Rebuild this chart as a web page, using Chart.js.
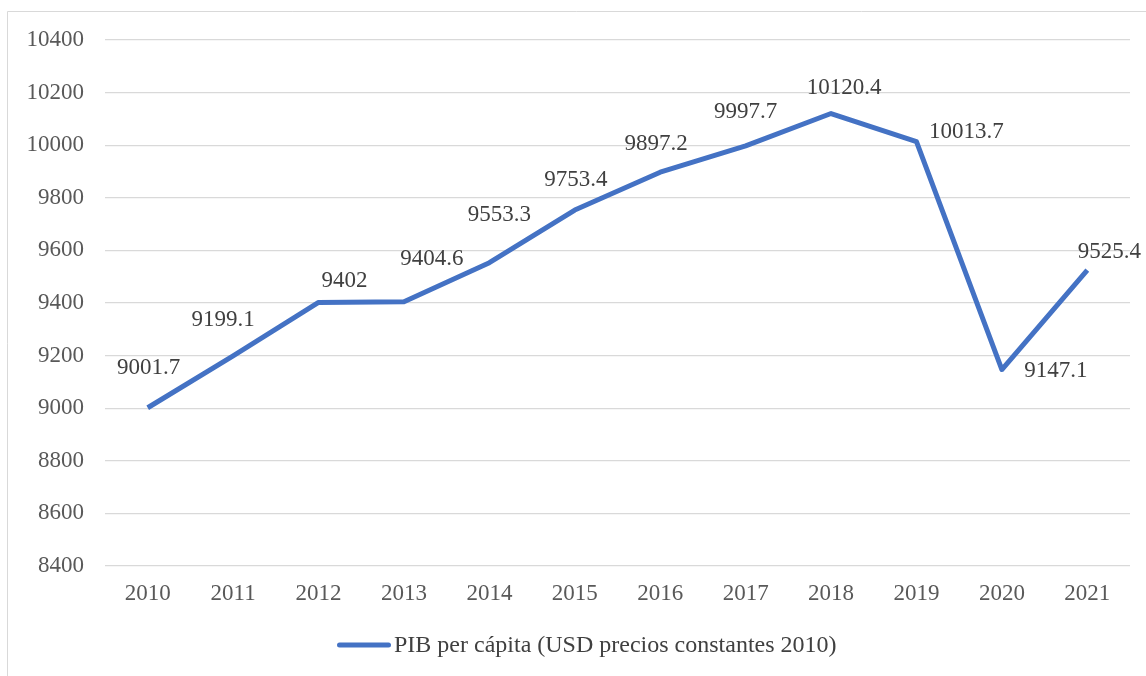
<!DOCTYPE html>
<html>
<head>
<meta charset="utf-8">
<script src="https://cdn.jsdelivr.net/npm/chart.js@4"></script>
<style>
  html, body { margin: 0; padding: 0; background: #ffffff; overflow: hidden; }
  #wrap { position: relative; width: 1146px; height: 676px; }
</style>
</head>
<body>
<div id="wrap"><canvas id="c" width="1146" height="676"></canvas></div>
<script>
const years = ['2010','2011','2012','2013','2014','2015','2016','2017','2018','2019','2020','2021'];
const pibPerCapita = [9001.7, 9199.1, 9402, 9404.6, 9553.3, 9753.4, 9897.2, 9997.7, 10120.4, 10013.7, 9147.1, 9525.4];
const valueLabels = ['9001.7','9199.1','9402','9404.6','9553.3','9753.4','9897.2','9997.7','10120.4','10013.7','9147.1','9525.4'];
const seriesName = 'PIB per cápita (USD precios constantes 2010)';
const yMin = 8400, yMax = 10400, yStep = 200;

const FONT = '"Liberation Serif", "Times New Roman", serif';

const frame = {
  id: 'frame',
  beforeDraw(chart) {
    const ctx = chart.ctx;
    ctx.save();
    ctx.fillStyle = '#ffffff';
    ctx.fillRect(0, 0, chart.width, chart.height);
    ctx.strokeStyle = '#d9d9d9';
    ctx.lineWidth = 1;
    ctx.beginPath();
    ctx.moveTo(7.5, chart.height);
    ctx.lineTo(7.5, 11.5);
    ctx.lineTo(chart.width, 11.5);
    ctx.stroke();
    ctx.restore();
  }
};

const valueLabelPlugin = {
  id: 'valueLabels',
  afterDatasetsDraw(chart, args, opts) {
    const ctx = chart.ctx;
    const meta = chart.getDatasetMeta(0);
    ctx.save();
    ctx.font = opts.font;
    ctx.fillStyle = opts.color;
    ctx.textAlign = 'center';
    ctx.textBaseline = 'middle';
    meta.data.forEach((pt, i) => {
      const off = opts.offsets[i] || [0, -30];
      ctx.fillText(valueLabels[i], pt.x + off[0], pt.y + off[1]);
    });
    ctx.restore();
  }
};

// Legend drawn at the bottom (Excel-style: long line swatch right next to the text)
const bottomLegend = {
  id: 'bottomLegend',
  afterDraw(chart, args, opts) {
    const ctx = chart.ctx;
    const ds = chart.data.datasets[0];
    ctx.save();
    ctx.strokeStyle = ds.borderColor;
    ctx.lineWidth = 5;
    ctx.lineCap = 'round';
    ctx.beginPath();
    ctx.moveTo(opts.x + 2.5, opts.y);
    ctx.lineTo(opts.x + opts.swatch - 2.5, opts.y);
    ctx.stroke();
    ctx.font = opts.font;
    ctx.fillStyle = opts.color;
    ctx.textAlign = 'left';
    ctx.textBaseline = 'middle';
    ctx.fillText(ds.label, opts.x + opts.swatch + opts.gap, opts.y + 1);
    ctx.restore();
  }
};

new Chart(document.getElementById('c'), {
  type: 'line',
  data: {
    labels: years,
    datasets: [{
      label: seriesName,
      data: pibPerCapita,
      borderColor: '#4472C4',
      backgroundColor: '#4472C4',
      borderWidth: 5,
      pointRadius: 0,
      pointHoverRadius: 0,
      tension: 0,
      borderJoinStyle: 'round',
      fill: false
    }]
  },
  options: {
    responsive: false,
    animation: false,
    layout: { padding: { top: 40, right: 16, left: 0, bottom: 53 } },
    scales: {
      x: {
        offset: true,
        grid: { display: false, drawTicks: false },
        border: { display: false },
        ticks: { color: '#595959', font: { family: FONT, size: 23 }, padding: 14, maxRotation: 0 },
        afterFit(scale) { scale.height = 57; }
      },
      y: {
        min: yMin, max: yMax,
        grid: { color: '#d9d9d9', lineWidth: 1.3, drawTicks: false },
        border: { display: false },
        ticks: {
          stepSize: yStep, color: '#595959', font: { family: FONT, size: 23 }, padding: 21,
          callback: (v) => String(v)
        },
        afterFit(scale) { scale.width = 105; }
      }
    },
    plugins: {
      legend: { display: false },
      tooltip: { enabled: false },
      valueLabels: {
        font: '23px ' + FONT,
        color: '#404040',
        offsets: [[1,-40],[-10,-36],[26,-22],[28,-43],[10,-48],[1,-30],[-4,-28],[0,-34],[13,-26],[50,-10],[54,1],[22,-18]]
      },
      bottomLegend: {
        x: 337, y: 645, swatch: 54, gap: 3,
        font: '24px ' + FONT,
        color: '#404040'
      }
    }
  },
  plugins: [frame, valueLabelPlugin, bottomLegend]
});
</script>
</body>
</html>
